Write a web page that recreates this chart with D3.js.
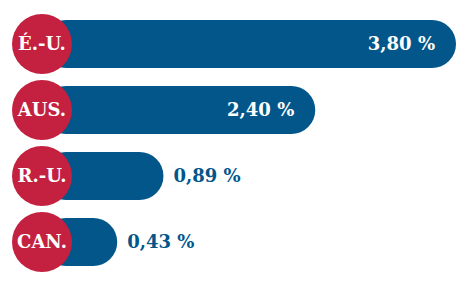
<!DOCTYPE html>
<html>
<head>
<meta charset="utf-8">
<script src="https://cdn.jsdelivr.net/npm/d3@7"></script>
<style>
  body { margin: 0; background: #fff; }
  text { font-family: "DejaVu Serif", serif; font-weight: bold; }
</style>
</head>
<body>
<svg id="chart"></svg>
<script>
const width = 471;
const height = 283;

const countries = ["É.-U.", "AUS.", "R.-U.", "CAN."];
const values = [3.80, 2.40, 0.89, 0.43];
const valueLabels = ["3,80 %", "2,40 %", "0,89 %", "0,43 %"];

const blue = "#02568a";
const red = "#c42040";

const svg = d3.select("#chart")
    .attr("width", width)
    .attr("height", height);

const x = d3.scaleLinear()
    .domain([0, 3.8])
    .range([74, 456]);

const y = d3.scalePoint()
    .domain(countries)
    .range([44, 242]);

const barH = 48;
const r = 30;
const cx = 42;

const rows = svg.selectAll("g.row")
    .data(countries.map((c, i) => ({ c, v: values[i], label: valueLabels[i] })))
    .enter().append("g")
    .attr("class", "row")
    .attr("transform", d => `translate(0,${y(d.c)})`);

rows.append("rect")
    .attr("x", cx)
    .attr("y", -barH / 2)
    .attr("width", d => x(d.v) - cx)
    .attr("height", barH)
    .attr("rx", barH / 2)
    .attr("fill", blue);

rows.append("circle")
    .attr("cx", cx)
    .attr("cy", 0)
    .attr("r", r)
    .attr("fill", red);

rows.append("text")
    .attr("x", cx)
    .attr("y", 0)
    .attr("dy", "0.35em")
    .attr("text-anchor", "middle")
    .attr("fill", "#fff")
    .style("font-size", "18px")
    .text(d => d.c);

// big values sit inside the bar, small ones after it
rows.append("text")
    .attr("x", d => d.v > 2 ? x(d.v) - 21 : x(d.v) + 10)
    .attr("y", 0)
    .attr("dy", "0.36em")
    .attr("text-anchor", d => d.v > 2 ? "end" : "start")
    .attr("fill", d => d.v > 2 ? "#fff" : blue)
    .style("font-size", "18px")
    .text(d => d.label);
</script>
</body>
</html>
